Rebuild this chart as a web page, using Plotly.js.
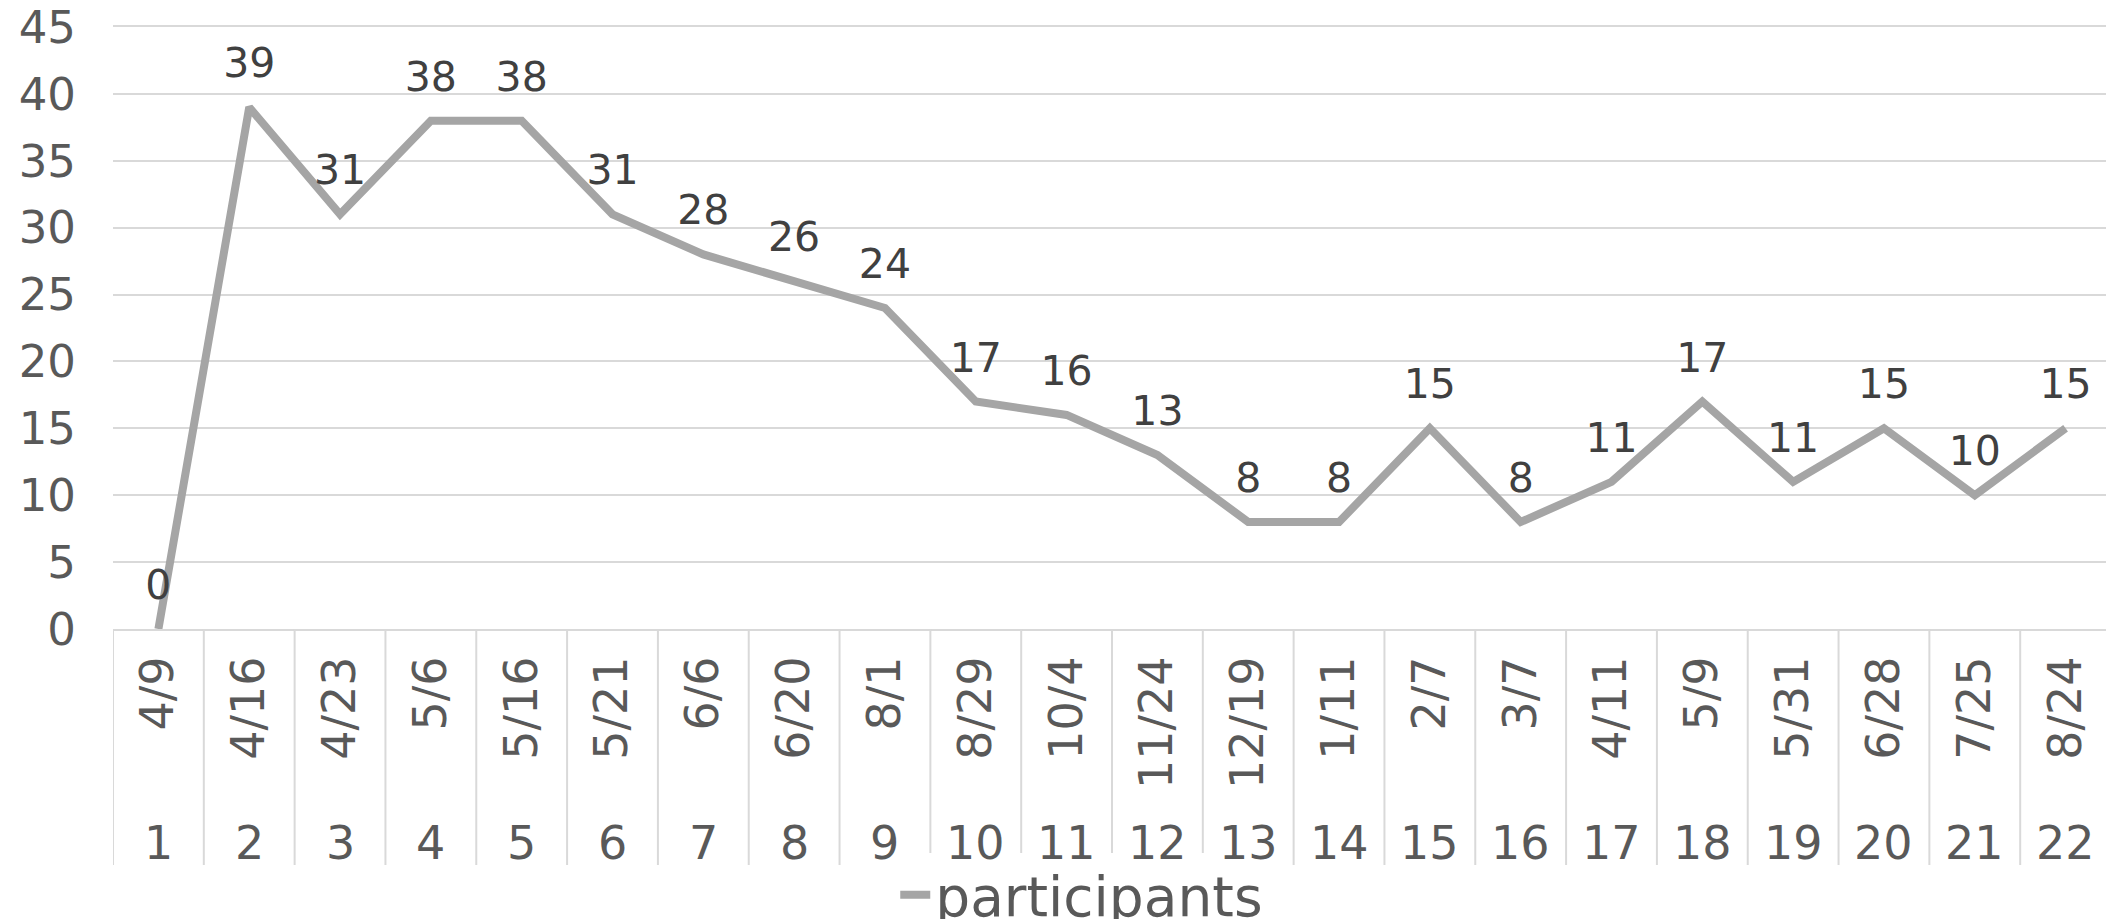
<!DOCTYPE html>
<html>
<head>
<meta charset="utf-8">
<script src="https://cdn.plot.ly/plotly-3.0.1.min.js"></script>
<style>
  html, body { margin: 0; padding: 0; background: #ffffff; }
  #chart { width: 2106px; height: 919px; }
</style>
</head>
<body>
<div id="chart"></div>
<script>
// ---- data ----
const dates = ['4/9', '4/16', '4/23', '5/6', '5/16', '5/21', '6/6', '6/20', '8/1', '8/29', '10/4',
  '11/24', '12/19', '1/11', '2/7', '3/7', '4/11', '5/9', '5/31', '6/28', '7/25', '8/24'];
const sessions = ['1', '2', '3', '4', '5', '6', '7', '8', '9', '10', '11',
  '12', '13', '14', '15', '16', '17', '18', '19', '20', '21', '22'];
const participants = [0, 39, 31, 38, 38, 31, 28, 26, 24, 17, 16, 13, 8, 8, 15, 8, 11, 17, 11, 15, 10, 15];
const seriesName = 'participants';
const yTicks = [0, 5, 10, 15, 20, 25, 30, 35, 40, 45];

const FONT = '"DejaVu Sans", "Noto Sans", sans-serif';
const GRID = '#D9D9D9';

const trace = {
  type: 'scatter',
  mode: 'lines+markers+text',
  x: dates,
  y: participants,
  name: seriesName,
  text: participants.map(String),
  textposition: 'top center',
  textfont: { family: FONT, size: 41, color: '#404040' },
  line: { color: '#A5A5A5', width: 8 },
  marker: { size: 30, color: 'rgba(0,0,0,0)' },
  cliponaxis: false,
  hoverinfo: 'skip'
};

const annotations = sessions.map((s, i) => ({
  x: dates[i], xref: 'x',
  y: 0, yref: 'paper',
  yanchor: 'middle', yshift: -214,
  text: s, showarrow: false,
  font: { family: FONT, size: 46, color: '#595959' }
}));

const shapes = [];
for (let i = 0; i <= dates.length; i++) {
  shapes.push({
    type: 'line', xref: 'x', yref: 'paper',
    ysizemode: 'pixel', yanchor: 0,
    x0: i - 0.5, x1: i - 0.5, y0: 0, y1: -236,
    line: { color: GRID, width: 2 }
  });
}

const layout = {
  width: 2106, height: 919,
  margin: { l: 113, r: 0, t: 27, b: 290, autoexpand: false },
  paper_bgcolor: '#ffffff', plot_bgcolor: '#ffffff',
  font: { family: FONT, color: '#595959' },
  showlegend: true,
  legend: {
    orientation: 'h', x: 0.3925, xanchor: 'left', y: -0.442, yanchor: 'middle',
    font: { family: FONT, size: 55, color: '#595959' }
  },
  xaxis: {
    type: 'category',
    range: [-0.5, 21.445],
    tickangle: -90,
    tickfont: { family: FONT, size: 46, color: '#595959' },
    ticks: '', ticklabelstandoff: 7,
    showgrid: false, zeroline: false,
    showline: true, mirror: true, linecolor: GRID, linewidth: 2,
    fixedrange: true
  },
  yaxis: {
    range: [0, 45],
    tickvals: yTicks,
    tickfont: { family: FONT, size: 45, color: '#595959' },
    ticks: '', ticklabelstandoff: 36, ticklabeloverflow: 'allow',
    showgrid: true, gridcolor: GRID, gridwidth: 2,
    zeroline: false, showline: false,
    fixedrange: true
  },
  shapes: shapes,
  annotations: annotations
};

Plotly.newPlot('chart', [trace], layout, { displayModeBar: false, staticPlot: true });
</script>
</body>
</html>
